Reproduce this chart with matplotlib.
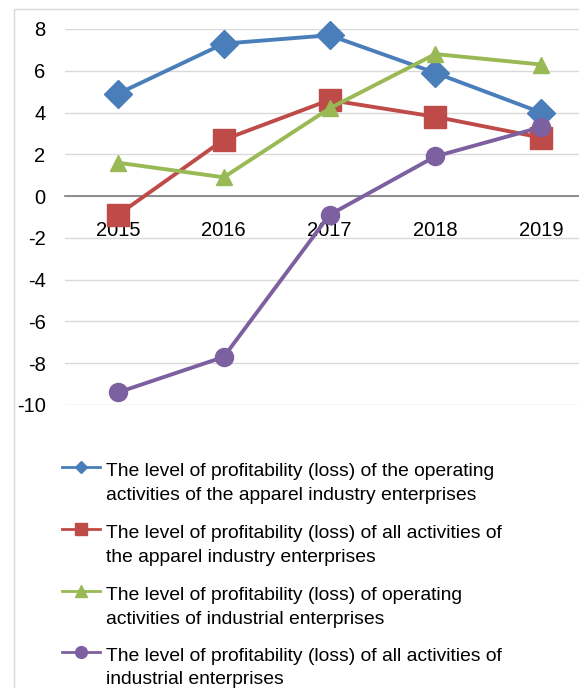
import matplotlib
matplotlib.use('Agg')
import matplotlib.pyplot as plt
from matplotlib.lines import Line2D
from matplotlib.patches import Rectangle

plt.rcParams['font.family'] = ['Liberation Sans', 'DejaVu Sans']
plt.rcParams['axes.unicode_minus'] = False

# ---------- data ----------
years = ['2015', '2016', '2017', '2018', '2019']
oper_apparel = [4.9, 7.3, 7.7, 5.9, 4.0]
all_apparel = [-0.9, 2.7, 4.6, 3.8, 2.8]
oper_industrial = [1.6, 0.9, 4.2, 6.8, 6.3]
all_industrial = [-9.4, -7.7, -0.9, 1.9, 3.3]

labels = [
    'The level of profitability (loss) of the operating\nactivities of the apparel industry enterprises',
    'The level of profitability (loss) of all activities of\nthe apparel industry enterprises',
    'The level of profitability (loss) of operating\nactivities of industrial enterprises',
    'The level of profitability (loss) of all activities of\nindustrial enterprises',
]
series = [oper_apparel, all_apparel, oper_industrial, all_industrial]
colors = ['#4A7EBB', '#BE4B48', '#98B954', '#7D60A0']
markers = ['D', 's', '^', 'o']
msizes = [14.5, 16, 12, 13]
leg_msizes = [6, 8.5, 8.5, 8.5]

W, H = 579, 688
fig = plt.figure(figsize=(W / 100, H / 100), dpi=100)

# chart area border
fig.patches.append(Rectangle((14 / W, -0.1), 1.2, (H - 9) / H + 0.1,
                             transform=fig.transFigure, fill=False,
                             edgecolor='#D9D9D9', linewidth=1))

ax = fig.add_axes([65 / W, (H - 405) / H, 529 / W, 376 / H])
x = range(len(years))
for vals, c, m, ms in zip(series, colors, markers, msizes):
    ax.plot(x, vals, color=c, marker=m, markersize=ms, linewidth=2.8,
            clip_on=False, zorder=3)

ax.set_xlim(-0.5, len(years) - 0.5)
ax.set_ylim(-10, 8)
ax.set_yticks(range(-10, 9, 2))
ax.set_xticks(list(x))
ax.set_xticklabels(years)
ax.grid(axis='y', color='#D9D9D9', linewidth=1)
ax.set_axisbelow(True)
for s in ['top', 'right', 'left']:
    ax.spines[s].set_visible(False)
ax.spines['bottom'].set_position(('data', 0))
ax.spines['bottom'].set_color('#868686')
ax.spines['bottom'].set_linewidth(1.3)
ax.spines['bottom'].set_zorder(2)
ax.tick_params(axis='y', length=0, pad=14, labelsize=14.5)
ax.tick_params(axis='x', length=0, pad=18, labelsize=14.5)

# ---------- legend (handle aligned with first text line) ----------
handle_y = [467, 529, 591, 652]
for yy, c, m, ms, lab in zip(handle_y, colors, markers, leg_msizes, labels):
    fy = (H - yy) / H
    fig.add_artist(Line2D([62 / W, 100 / W], [fy, fy], color=c, linewidth=2,
                          transform=fig.transFigure))
    fig.add_artist(Line2D([81 / W], [fy], color=c, marker=m, markersize=ms,
                          transform=fig.transFigure))
    fig.text(106 / W, (H - yy + 4) / H, lab, fontsize=13.9, va='top',
             ha='left', linespacing=1.5)

plt.savefig('out.png', dpi=100)
